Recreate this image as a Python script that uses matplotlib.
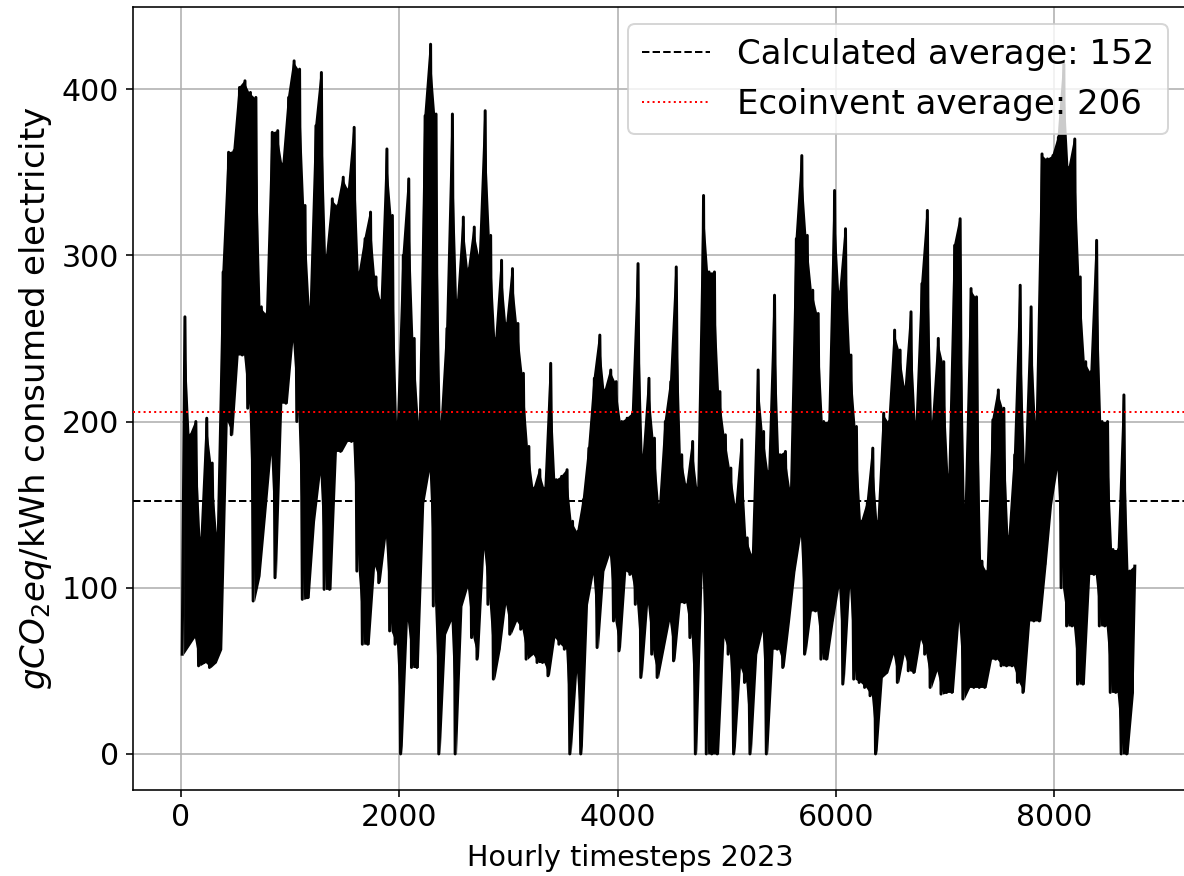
import numpy as np
import matplotlib
matplotlib.use('Agg')
import matplotlib.pyplot as plt

# Hourly series of 2023 summarised as low/high readings for each 50-hour block
bin_hours = 50
bin_low = [
    60, 65, 70, 53, 55, 52, 55, 63, 200, 192, 240, 240, 208, 92, 107, 143, 180, 106,
    211, 211, 248, 200, 93, 94, 140, 168, 99, 99, 182, 182, 188, 188, 110, 66,
    66, 113, 103, 130, 74, 66, 0, 80, 52, 52, 151, 170, 89, 0, 72, 80, 0, 89,
    100, 70, 57, 123, 90, 45, 63, 90, 72, 80, 75, 57, 60, 55, 55, 47, 70, 66,
    63, 0, 49, 0, 90, 108, 64, 110, 120, 80, 62, 110, 108, 90, 46, 90, 60, 46,
    63, 80, 56, 91, 91, 70, 0, 110, 0, 0, 0, 70, 60, 0, 52, 43, 0, 60,
    74, 0, 63, 63, 52, 80, 110, 131, 60, 86, 86, 57, 57, 80, 100, 42, 100, 45,
    43, 40, 35, 0, 46, 49, 60, 43, 60, 50, 49, 69, 60, 40, 50, 36, 37,
    37, 80, 33, 40, 40, 40, 40, 57, 57, 53, 53, 53, 43, 37, 80, 80, 80, 114,
    150, 171, 100, 77, 77, 42, 42, 108, 108, 77, 77, 37, 37, 0, 0, 37,
]
bin_high = [
    263, 192, 200, 130, 202, 175, 133, 290, 362, 363, 401, 405, 398, 395, 269, 265, 374, 375,
    355, 395, 417, 412, 330, 269, 378, 410, 300, 334, 330, 347, 340, 377, 290, 310,
    326, 287, 273, 364, 324, 200, 300, 346, 250, 200, 384, 427, 385, 200, 256, 385, 273, 323,
    292, 317, 300, 387, 312, 250, 297, 259, 292, 259, 229, 185, 160, 171, 160, 235, 165, 167,
    171, 140, 134, 153, 184, 226, 252, 219, 231, 224, 200, 202, 205, 295, 180, 226, 190, 150,
    200, 224, 293, 180, 162, 188, 160, 336, 290, 290, 218, 192, 172, 150, 189, 130, 120, 231,
    194, 170, 276, 180, 182, 160, 310, 360, 312, 279, 265, 200, 200, 339, 278, 316, 240, 197,
    140, 151, 184, 140, 205, 200, 255, 243, 221, 266, 200, 283, 327, 200, 250, 236, 168,
    306, 322, 150, 280, 275, 116, 110, 201, 219, 208, 131, 180, 282, 174, 269, 200, 361, 358,
    360, 371, 415, 353, 370, 287, 236, 230, 309, 200, 200, 123, 123, 216, 110, 113,
]
calc_avg = 152
ecoinvent_avg = 206

starts = np.arange(len(bin_low)) * bin_hours
centers = starts + 0.5 * bin_hours
hours = np.empty(2 * len(starts))
hours[0::2] = starts + 0.25 * bin_hours
hours[1::2] = starts + 0.75 * bin_hours
values = np.empty_like(hours)
values[0::2] = bin_low
values[1::2] = bin_high

DPI = 144
fig = plt.figure(figsize=(1184 / DPI, 876 / DPI), dpi=DPI)
ax = fig.add_axes([133 / 1184, (876 - 789.5) / 876, (1185 - 133) / 1184, (789.5 - 7) / 876])

ax.fill_between(centers, bin_low, bin_high, color='black', linewidth=0, zorder=2)
ax.plot(hours, values, color='black', linewidth=1.5, zorder=2)
ax.axhline(calc_avg, color='black', linestyle='--', linewidth=1.0,
           label=f'Calculated average: {calc_avg}', zorder=3)
ax.axhline(ecoinvent_avg, color='red', linestyle=':', linewidth=1.0,
           label=f'Ecoinvent average: {ecoinvent_avg}', zorder=3)

ax.set_xlim(-438, 9197)
ax.set_ylim(-21.4, 449.4)
ax.grid(True, zorder=0)
ax.set_axisbelow(True)
ax.tick_params(labelsize=15)
ax.set_xlabel('Hourly timesteps 2023', fontsize=14.3)
ax.set_ylabel(r'$gCO_2eq$/kWh consumed electricity', fontsize=17)
ax.xaxis.set_label_coords((630 - 133) / (1185 - 133), -0.07)
ax.legend(loc='upper right', fontsize=17)

fig.savefig('out.png', dpi=DPI)
